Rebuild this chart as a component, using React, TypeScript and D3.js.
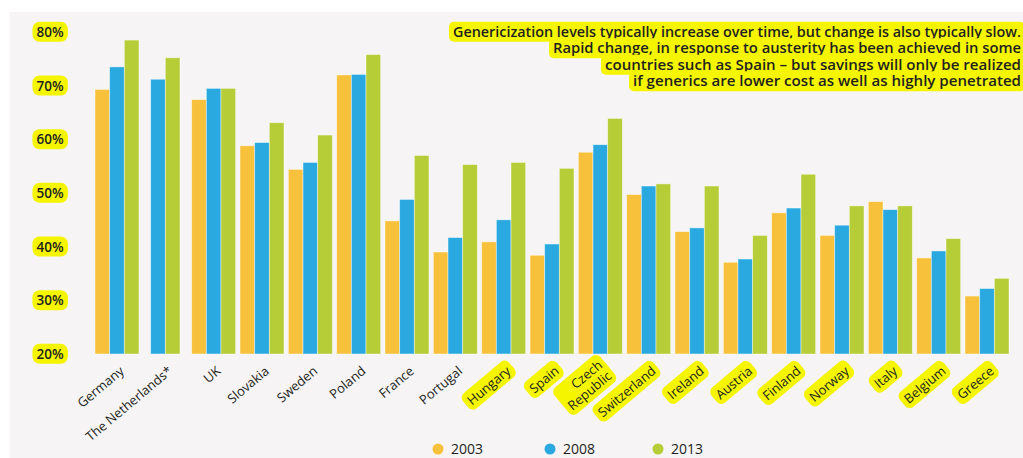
import * as d3 from 'd3';
import React, { useRef, useEffect } from 'react';

const countries = [
  'Germany', 'The Netherlands*', 'UK', 'Slovakia', 'Sweden', 'Poland', 'France',
  'Portugal', 'Hungary', 'Spain', 'Czech\nRepublic', 'Switzerland', 'Ireland',
  'Austria', 'Finland', 'Norway', 'Italy', 'Belgium', 'Greece',
];
// countries with a yellow marker behind the label
const highlighted = [
  'Hungary', 'Spain', 'Czech\nRepublic', 'Switzerland', 'Ireland', 'Austria',
  'Finland', 'Norway', 'Italy', 'Belgium', 'Greece',
];

const years = ['2003', '2008', '2013'];
const v2003 = [69.3, null, 67.4, 58.8, 54.4, 72.0, 44.8, 39.0, 40.9, 38.4, 57.6, 49.7, 42.8, 37.1, 46.3, 42.1, 48.4, 37.9, 30.8];
const v2008 = [73.5, 71.2, 69.5, 59.4, 55.7, 72.1, 48.8, 41.7, 45.0, 40.5, 59.0, 51.3, 43.5, 37.7, 47.2, 44.0, 46.9, 39.2, 32.2];
const v2013 = [78.5, 75.2, 69.5, 63.1, 60.8, 75.8, 57.0, 55.3, 55.7, 54.6, 63.9, 51.7, 51.3, 42.1, 53.5, 47.6, 47.6, 41.5, 34.1];
const yTicks = [20, 30, 40, 50, 60, 70, 80];

const noteLines = [
  'Genericization levels typically increase over time, but change is also typically slow.',
  'Rapid change, in response to austerity has been achieved in some',
  'countries such as Spain – but savings will only be realized',
  'if generics are lower cost as well as highly penetrated',
];
const noteWidths = [568, 468, 416, 388];

const colors = ['#f8c13c', '#29a9e0', '#b7cd37'];
const W = 1023;
const H = 458;
const HL = '#f5f500';
const FONT = '"Open Sans", "Noto Sans", sans-serif';

function addHighlight(g: any, text: any, pad: number, rx: number) {
  const b = (text.node() as SVGTextElement).getBBox();
  g.insert('rect', 'text')
    .attr('x', b.x - pad)
    .attr('y', b.y - 1)
    .attr('width', b.width + pad * 2)
    .attr('height', b.height + 2)
    .attr('rx', rx)
    .attr('fill', HL);
}

function GenericsChart() {
  const ref = useRef(null);

  useEffect(() => {
    const svg = d3.select(ref.current);
    svg.selectAll('*').remove();

    svg.append('rect').attr('width', W).attr('height', H).attr('fill', '#ffffff');
    svg.append('rect')
      .attr('x', 10).attr('y', 12)
      .attr('width', W - 10).attr('height', H - 12)
      .attr('fill', '#f6f4f5');

    const x0 = d3.scaleBand<string>()
      .domain(countries)
      .range([95, 1009])
      .paddingInner(0.09)
      .paddingOuter(0);

    const y = d3.scaleLinear().domain([20, 80]).range([354, 32]);

    const series = [v2003, v2008, v2013];

    // bars
    const groups = svg.append('g')
      .selectAll('g')
      .data(countries)
      .join('g')
      .attr('transform', (d) => `translate(${x0(d)},0)`);

    groups.each(function (c, i) {
      const present = years
        .map((yr, k) => ({ yr, k, v: series[k][i] }))
        .filter((d) => d.v != null);
      const bw = x0.bandwidth() / 3;
      const offset = (x0.bandwidth() - bw * present.length) / 2;
      d3.select(this)
        .selectAll('rect')
        .data(present)
        .join('rect')
        .attr('x', (_d, j) => offset + j * bw)
        .attr('y', (d) => y(d.v as number))
        .attr('width', bw)
        .attr('height', (d) => y(20) - y(d.v as number))
        .attr('fill', (d) => colors[d.k])
        .attr('stroke', 'rgba(255,255,255,0.55)')
        .attr('stroke-width', 0.8);
    });

    // y tick labels
    yTicks.forEach((t) => {
      const g = svg.append('g').attr('transform', `translate(50,${y(t)})`);
      const txt = g.append('text')
        .attr('text-anchor', 'middle')
        .attr('dy', '0.36em')
        .attr('font-family', FONT)
        .attr('font-weight', 600)
        .attr('font-size', 13.5)
        .attr('fill', '#231f20')
        .text(`${t}%`);
      addHighlight(g, txt, 4, 7);
    });

    // x labels (rotated)
    countries.forEach((c) => {
      const cx = (x0(c) as number) + x0.bandwidth() / 2;
      const g = svg.append('g')
        .attr('transform', `translate(${cx + 5},369) rotate(-40)`);
      const txt = g.append('text')
        .attr('text-anchor', 'end')
        .attr('font-family', FONT)
        .attr('font-size', 13)
        .attr('fill', '#231f20');
      const parts = c.split('\n');
      parts.forEach((p, k) => {
        txt.append('tspan')
          .attr('x', 0)
          .attr('dy', k === 0 ? (parts.length > 1 ? '-0.25em' : '0.35em') : '1.1em')
          .text(p);
      });
      if (highlighted.includes(c)) addHighlight(g, txt, 4, 6);
    });

    // annotation
    noteLines.forEach((line, k) => {
      const g = svg.append('g').attr('transform', `translate(1021,${32 + k * 16.5})`);
      const txt = g.append('text')
        .attr('text-anchor', 'end')
        .attr('dy', '0.35em')
        .attr('font-family', FONT)
        .attr('font-weight', 600)
        .attr('font-size', 13.5)
        .attr('fill', '#231f20')
        .attr('textLength', noteWidths[k])
        .attr('lengthAdjust', 'spacingAndGlyphs')
        .text(line);
      addHighlight(g, txt, 4, 5);
    });

    // legend
    const lx = [438, 550, 658];
    years.forEach((yr, k) => {
      svg.append('circle')
        .attr('cx', lx[k]).attr('cy', 449).attr('r', 5.5)
        .attr('fill', colors[k]);
      svg.append('text')
        .attr('x', lx[k] + 13).attr('y', 454)
        .attr('font-family', FONT)
        .attr('font-size', 14)
        .attr('fill', '#231f20')
        .text(yr);
    });
  }, []);

  return <svg ref={ref} width={W} height={H} style={{ display: 'block' }} />;
}

export default function App() {
  return (
    <div style={{ position: 'absolute', left: 0, top: 0 }}>
      <GenericsChart />
    </div>
  );
}
